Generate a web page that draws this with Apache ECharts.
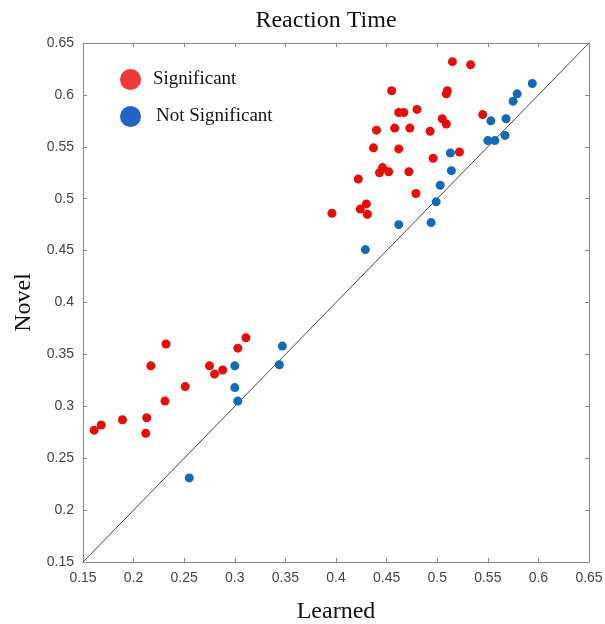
<!DOCTYPE html>
<html>
<head>
<meta charset="utf-8">
<script src="https://cdn.jsdelivr.net/npm/echarts@6/dist/echarts.min.js"></script>
<style>html,body{margin:0;padding:0;background:#fff}#c{width:605px;height:624px}</style>
</head>
<body>
<div id="c"></div>
<script>
const titleText = 'Reaction Time';
const xName = 'Learned';
const yName = 'Novel';
const seriesNames = ['Significant', 'Not Significant'];
const axisTicks = [0.15, 0.2, 0.25, 0.3, 0.35, 0.4, 0.45, 0.5, 0.55, 0.6, 0.65];
const identityLine = [0.15, 0.65];

const sigLearned = [0.515,0.533,0.455,0.510,0.509,0.462,0.467,0.480,0.545,0.505,0.509,0.440,0.458,0.473,0.493,0.437,0.462,0.522,0.496,0.422,0.446,0.443,0.452,0.472,0.479,0.430,0.424,0.431,0.396,
  0.161,0.168,0.189,0.213,0.212,0.217,0.232,0.231,0.251,0.275,0.280,0.288,0.303,0.311];
const sigNovel = [0.632,0.629,0.604,0.604,0.601,0.583,0.583,0.586,0.581,0.577,0.572,0.566,0.568,0.568,0.565,0.549,0.548,0.545,0.539,0.519,0.530,0.525,0.526,0.526,0.505,0.495,0.490,0.485,0.486,
  0.277,0.282,0.287,0.289,0.274,0.339,0.360,0.305,0.319,0.339,0.331,0.335,0.356,0.366];

const nsLearned = [0.594,0.579,0.575,0.553,0.568,0.550,0.557,0.567,0.513,0.514,0.503,0.499,0.462,0.494,0.429,0.300,0.300,0.303,0.347,0.344,0.255];
const nsNovel = [0.611,0.601,0.594,0.575,0.577,0.556,0.556,0.561,0.544,0.527,0.513,0.497,0.475,0.477,0.451,0.339,0.318,0.305,0.358,0.340,0.231];

const sigColor = '#e60d0d';
const nsColor = '#1668b8';
const sigLegendColor = '#f03838';
const nsLegendColor = '#2163c6';

const zip = (a, b) => a.map((v, i) => [v, b[i]]);

const chart = echarts.init(document.getElementById('c'));
const tickFont = { fontFamily: 'Liberation Sans, Arial, sans-serif', fontSize: 14, color: '#444' };
const serif = 'Liberation Serif, Times New Roman, serif';
const axisCommon = {
  type: 'value', min: 0.15, max: 0.65, interval: 0.05,
  axisLine: { show: true, onZero: false, lineStyle: { color: '#888', width: 1 } },
  axisTick: { show: true, inside: true, length: 4, lineStyle: { color: '#888' } },
  splitLine: { show: false }
};
chart.setOption({
  animation: false,
  backgroundColor: '#fff',
  title: {
    text: titleText, left: 321, top: 4, textAlign: 'center',
    textStyle: { fontFamily: serif, fontSize: 24, fontWeight: 'normal', color: '#111' }
  },
  legend: [
    { data: [{ name: seriesNames[0], itemStyle: { color: sigLegendColor } }], orient: 'vertical', left: 120, top: 69, padding: 0,
      itemWidth: 21, itemHeight: 21, icon: 'circle',
      textStyle: { fontFamily: serif, fontSize: 19, color: '#111', padding: [0, 0, 0, 7] } },
    { data: [{ name: seriesNames[1], itemStyle: { color: nsLegendColor } }], orient: 'vertical', left: 120, top: 106, padding: 0,
      itemWidth: 21, itemHeight: 21, icon: 'circle',
      textStyle: { fontFamily: serif, fontSize: 19, color: '#111', padding: [0, 0, 0, 10] } }
  ],
  grid: { left: 83, right: 16, top: 43, bottom: 62, containLabel: false, outerBoundsMode: 'none' },
  xAxis: [
    Object.assign({}, axisCommon, {
      position: 'bottom', name: xName, nameLocation: 'middle', nameGap: 38,
      nameTextStyle: { fontFamily: serif, fontSize: 24, color: '#111' },
      axisLabel: Object.assign({ margin: 9, formatter: v => String(+v.toFixed(2)) }, tickFont)
    }),
    Object.assign({}, axisCommon, { position: 'top', axisLabel: { show: false } })
  ],
  yAxis: [
    Object.assign({}, axisCommon, {
      position: 'left', name: yName, nameLocation: 'middle', nameGap: 47,
      nameTextStyle: { fontFamily: serif, fontSize: 24, color: '#111' },
      axisLabel: Object.assign({ margin: 9, formatter: v => String(+v.toFixed(2)) }, tickFont)
    }),
    Object.assign({}, axisCommon, { position: 'right', axisLabel: { show: false } })
  ],
  series: [
    {
      type: 'line', data: identityLine.map(v => [v, v]), symbol: 'none', silent: true,
      lineStyle: { color: '#444', width: 1 }, z: 1
    },
    {
      name: seriesNames[0], type: 'scatter', data: zip(sigLearned, sigNovel), symbolSize: 9,
      itemStyle: { color: sigColor, opacity: 1 }, z: 3
    },
    {
      name: seriesNames[1], type: 'scatter', data: zip(nsLearned, nsNovel), symbolSize: 9,
      itemStyle: { color: nsColor, opacity: 1 }, z: 3
    }
  ]
});
</script>
</body>
</html>
